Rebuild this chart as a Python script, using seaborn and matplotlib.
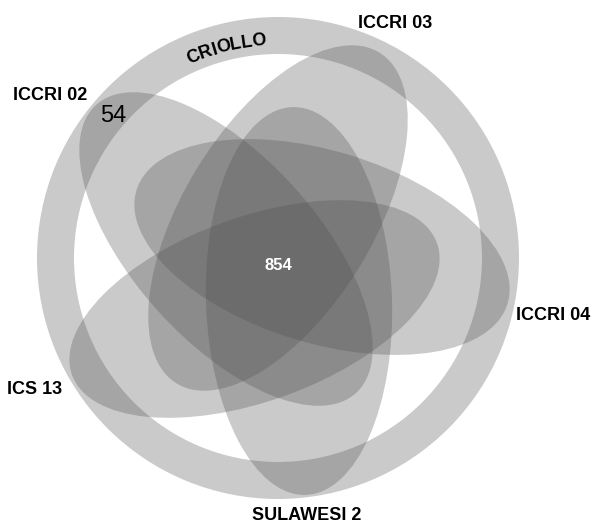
import numpy as np
import matplotlib
matplotlib.use("Agg")
import matplotlib.pyplot as plt
from matplotlib.patches import Ellipse, Wedge
import seaborn as sns

# ==========================
# DATA
# ==========================

ring_set = "CRIOLLO"
ellipse_sets = ["ICCRI 04", "ICCRI 03", "ICCRI 02", "ICS 13", "SULAWESI 2"]
core_count = 854
unique_set = "ICCRI 02"
unique_count = 54

# ==========================
# LAYOUT (pixel space, y down)
# ==========================

W, H = 592, 525
cx, cy = 278, 258
r_out, ring_w = 241, 37
semi_major = 194
semi_minor = [96, 95, 92, 92, 93]
ell_center = [(322, 247), (278, 218), (226, 249), (254.5, 309), (299, 301)]
ell_angle = [17, -58.5, 48, -19.9, 88]
label_xy = [(553, 315), (395, 24), (50, 95), (35, 390), (307, 515)]
unique_xy = (113, 116)
core_xy = (278, 266)

sns.set_style("white")
plt.rcParams["font.family"] = ["Liberation Sans", "DejaVu Sans"]

shade = "#505050"
alpha = 0.3

fig = plt.figure(figsize=(W / 100, H / 100), dpi=100)
ax = fig.add_axes([0, 0, 1, 1])
ax.set_xlim(0, W)
ax.set_ylim(H, 0)
ax.axis("off")

# ring set
ax.add_patch(Wedge((cx, cy), r_out, 0, 360, width=ring_w,
                   facecolor=shade, alpha=alpha, lw=0))

# ellipse sets
for name, (ex, ey), b, ang, (lx, ly) in zip(ellipse_sets, ell_center, semi_minor,
                                           ell_angle, label_xy):
    ax.add_patch(Ellipse((ex, ey), 2 * semi_major, 2 * b, angle=ang,
                         facecolor=shade, alpha=alpha, lw=0))
    ax.text(lx, ly, name, ha="center", va="center",
            fontsize=13, fontweight="bold", color="black")

# curved ring label
char_w = {"C": .722, "R": .722, "I": .278, "O": .778, "L": .611}
fs_px = 18
r_txt = 218
mid = np.radians(103.8)
widths = np.array([char_w[c] * fs_px for c in ring_set])
pos = np.cumsum(widths) - widths / 2 - widths.sum() / 2
for ch, s in zip(ring_set, pos):
    a = mid - s / r_txt
    tx = cx + r_txt * np.cos(a)
    ty = cy - r_txt * np.sin(a)
    ax.text(tx, ty, ch, ha="center", va="center", rotation=np.degrees(a) - 90,
            rotation_mode="anchor", fontsize=13, fontweight="bold", color="black")

ax.text(*unique_xy, str(unique_count), ha="center", va="center",
        fontsize=17, color="black")
ax.text(*core_xy, str(core_count), ha="center", va="center",
        fontsize=12, fontweight="bold", color="white")

fig.savefig("out.png", dpi=100, facecolor="white")
